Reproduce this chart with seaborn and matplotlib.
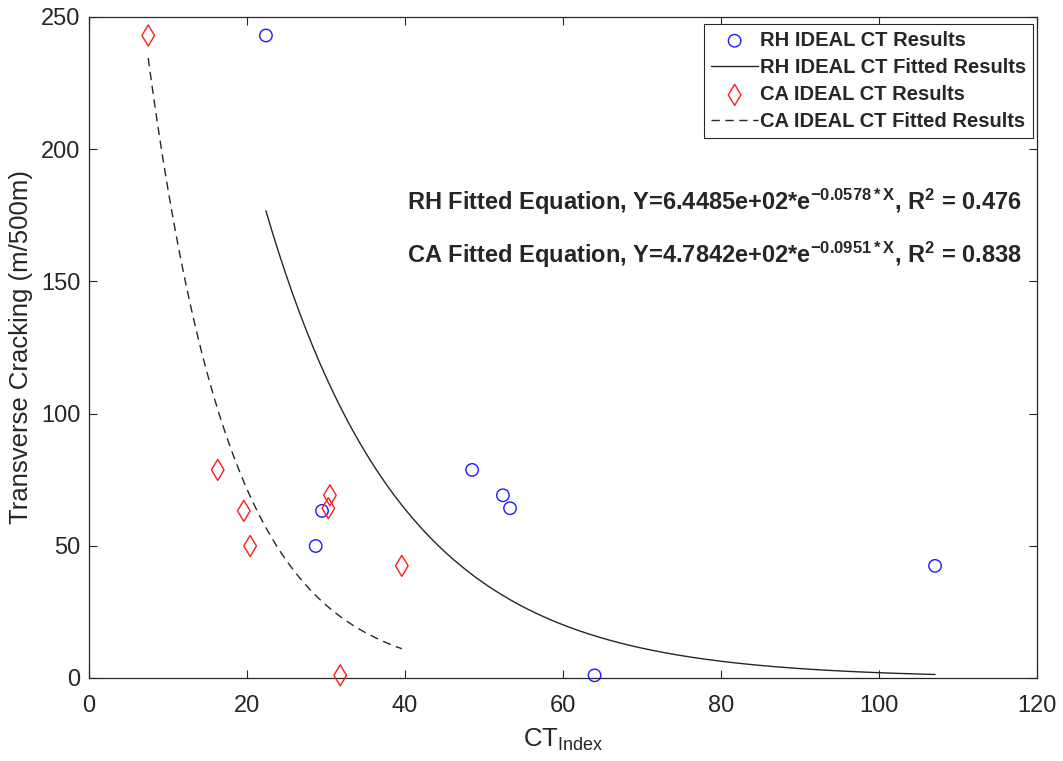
import numpy as np
import pandas as pd
import matplotlib
matplotlib.use("Agg")
import matplotlib.pyplot as plt
import seaborn as sns

# ---- data ----
rh_ct = [22.4, 48.5, 52.4, 53.3, 29.5, 28.7, 64.0, 107.1]
rh_crack = [243.0, 78.7, 69.1, 64.2, 63.2, 49.9, 1.0, 42.4]
ca_ct = [7.5, 16.3, 19.6, 20.4, 30.5, 30.3, 39.6, 31.8]
ca_crack = [243.0, 78.7, 63.2, 49.9, 69.1, 64.2, 42.4, 1.0]

rh_a, rh_b, rh_r2 = 6.4485e+02, 0.0578, 0.476
ca_a, ca_b, ca_r2 = 4.7842e+02, 0.0951, 0.838

x_ticks = [0, 20, 40, 60, 80, 100, 120]
y_ticks = [0, 50, 100, 150, 200, 250]

sns.set_style("ticks")
plt.rcParams['font.family'] = ['Liberation Sans', 'DejaVu Sans']
plt.rcParams['mathtext.fontset'] = 'custom'
plt.rcParams['mathtext.rm'] = 'Liberation Sans'
plt.rcParams['mathtext.bf'] = 'Liberation Sans:bold'
plt.rcParams['mathtext.it'] = 'Liberation Sans:italic'

fig = plt.figure(figsize=(10.63, 7.61), dpi=100)
ax = fig.add_axes([0.0837, 0.1091, 0.8918, 0.8686])

rh_df = pd.DataFrame({"x": rh_ct, "y": rh_crack})
ca_df = pd.DataFrame({"x": ca_ct, "y": ca_crack})

xr = np.linspace(min(rh_ct), max(rh_ct), 200)
xc = np.linspace(min(ca_ct), max(ca_ct), 200)
rh_fit = pd.DataFrame({"x": xr, "y": rh_a * np.exp(-rh_b * xr)})
ca_fit = pd.DataFrame({"x": xc, "y": ca_a * np.exp(-ca_b * xc)})

sns.scatterplot(data=rh_df, x="x", y="y", ax=ax, marker='o', s=80,
                facecolor='none', edgecolor='#1a1aff', linewidth=1.0,
                label='RH IDEAL CT Results', clip_on=False, zorder=3)
sns.lineplot(data=rh_fit, x="x", y="y", ax=ax, color='#262626', linewidth=1.0,
             label='RH IDEAL CT Fitted Results', sort=False)
sns.scatterplot(data=ca_df, x="x", y="y", ax=ax, marker='d', s=115,
                facecolor='none', edgecolor='#ff1a1a', linewidth=1.0,
                label='CA IDEAL CT Results', clip_on=False, zorder=3)
sns.lineplot(data=ca_fit, x="x", y="y", ax=ax, color='#262626', linewidth=1.0,
             label='CA IDEAL CT Fitted Results', sort=False)
ax.lines[-1].set_dashes([6, 4])

ax.set_xlim(0, 120)
ax.set_ylim(0, 250)
ax.set_xticks(x_ticks)
ax.set_yticks(y_ticks)
ax.tick_params(direction='in', top=True, right=True, length=6, width=0.8,
               labelsize=17, colors='#262626')
ax.tick_params(axis='x', pad=12)
ax.tick_params(axis='y', pad=6)
for s in ax.spines.values():
    s.set_visible(True)
    s.set_color('#262626')
    s.set_linewidth(0.9)

ax.set_xlabel(r'CT$_{\mathrm{Index}}$', fontsize=18.5, color='#262626', labelpad=7)
ax.set_ylabel('Transverse Cracking (m/500m)', fontsize=18.5, color='#262626', labelpad=6)

leg = ax.legend(loc='upper right', bbox_to_anchor=(0.9958, 0.9894), frameon=True,
                fancybox=False, prop={'weight': 'bold', 'size': 14.5},
                borderaxespad=0.0, handlelength=2.3, labelspacing=0.40,
                handletextpad=0.1, borderpad=0.35, framealpha=1)
leg.get_frame().set_edgecolor('#262626')
leg.get_frame().set_linewidth(0.8)
leg.get_lines()[-1].set_dashes([6, 4])

ax.text(0.984, 0.720,
        r'RH Fitted Equation, Y=6.4485e+02*e$^{\mathbf{-0.0578*X}}$, R$^{\mathbf{2}}$ = ' + f'{rh_r2:.3f}',
        transform=ax.transAxes, ha='right', va='center', fontsize=17, fontweight='bold')
ax.text(0.984, 0.640,
        r'CA Fitted Equation, Y=4.7842e+02*e$^{\mathbf{-0.0951*X}}$, R$^{\mathbf{2}}$ = ' + f'{ca_r2:.3f}',
        transform=ax.transAxes, ha='right', va='center', fontsize=17, fontweight='bold')

fig.savefig('out.png', dpi=100)
